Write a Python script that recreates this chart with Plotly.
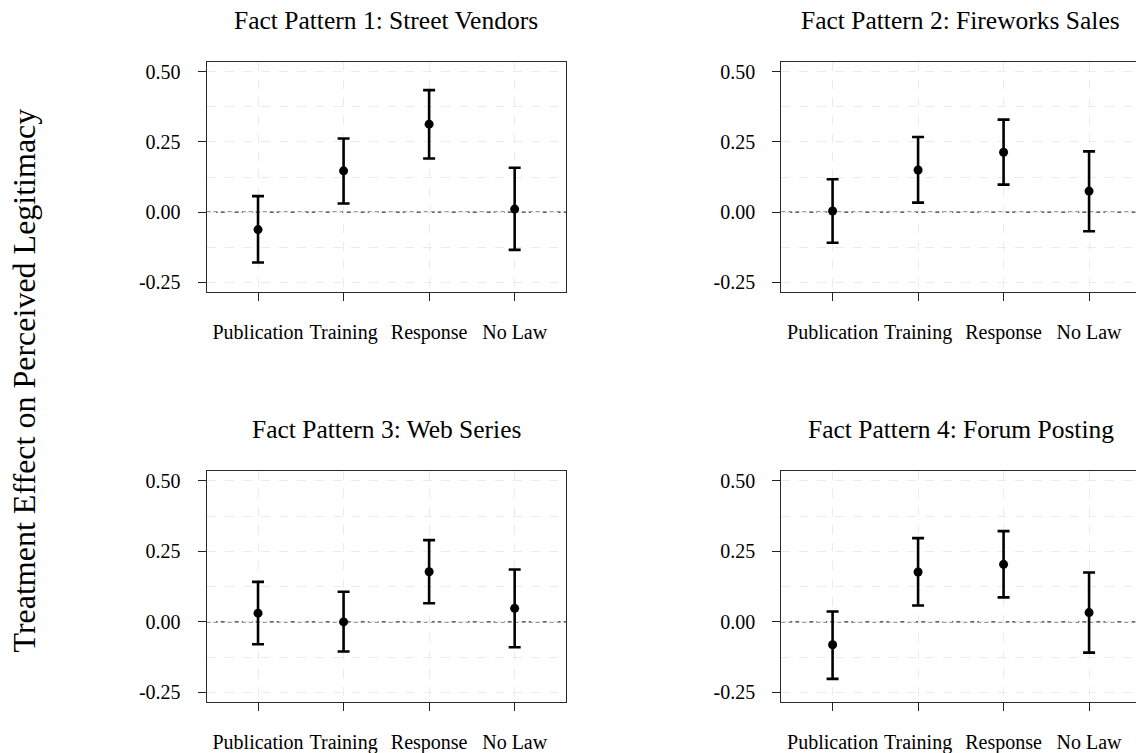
import plotly.graph_objects as go

W, H = 1136, 753
FONT = "Liberation Serif"

categories = ["Publication", "Training", "Response", "No Law"]
cat_pos = [1, 2, 3, 4]

titles = [
    "Fact Pattern 1: Street Vendors",
    "Fact Pattern 2: Fireworks Sales",
    "Fact Pattern 3: Web Series",
    "Fact Pattern 4: Forum Posting",
]

# point estimates and 95% CI bounds per fact pattern
est_fp1 = [-0.062, 0.147, 0.313, 0.011]
low_fp1 = [-0.179, 0.031, 0.191, -0.134]
up_fp1 = [0.057, 0.262, 0.434, 0.158]

est_fp2 = [0.004, 0.150, 0.213, 0.075]
low_fp2 = [-0.109, 0.034, 0.098, -0.068]
up_fp2 = [0.117, 0.267, 0.329, 0.216]

est_fp3 = [0.031, 0.000, 0.178, 0.048]
low_fp3 = [-0.079, -0.105, 0.066, -0.090]
up_fp3 = [0.142, 0.107, 0.290, 0.186]

est_fp4 = [-0.081, 0.177, 0.204, 0.033]
low_fp4 = [-0.202, 0.058, 0.087, -0.109]
up_fp4 = [0.037, 0.297, 0.322, 0.175]

y_ticks = [-0.25, 0.0, 0.25, 0.50]
y_tick_text = ["-0.25", "0.00", "0.25", "0.50"]

ylabel = "Treatment Effect on Perceived Legitimacy"

panels = [
    (est_fp1, low_fp1, up_fp1),
    (est_fp2, low_fp2, up_fp2),
    (est_fp3, low_fp3, up_fp3),
    (est_fp4, low_fp4, up_fp4),
]

# layout geometry (pixels)
left_x = [(206.7, 566.0), (781.3, 1136.0)]
top_y = [(61.7, 292.3), (471.0, 702.3)]
x_ranges = [[0.4, 4.6], [0.4, 4.549]]
y_range = [-0.285, 0.535]
GRID = "#ebebeb"

fig = go.Figure()

for i, (est, lo, up) in enumerate(panels):
    r, c = divmod(i, 2)
    ax = "" if i == 0 else str(i + 1)
    fig.add_trace(go.Scatter(
        x=cat_pos, y=est, mode="markers",
        marker=dict(color="black", size=9),
        error_y=dict(type="data", symmetric=False,
                     array=[u - e for u, e in zip(up, est)],
                     arrayminus=[e - l for e, l in zip(est, lo)],
                     color="black", thickness=2.6, width=6),
        xaxis="x" + ax, yaxis="y" + ax, showlegend=False,
        cliponaxis=False,
    ))
    x0, x1 = left_x[c]
    ytop, ybot = top_y[r]
    xd = [x0 / W, x1 / W]
    yd = [(H - ybot) / H, (H - ytop) / H]
    fig.layout["xaxis" + ax] = dict(
        domain=xd, range=x_ranges[c], anchor="y" + ax, automargin=False,
        tickmode="array", tickvals=cat_pos, ticktext=categories,
        ticks="outside", ticklen=8, tickwidth=1.2, tickcolor="#222",
        showline=True, mirror=True, linecolor="#2a2a2a", linewidth=1.3,
        showgrid=True, gridcolor=GRID, griddash="dash", gridwidth=1,
        zeroline=False, ticklabelstandoff=14,
        tickfont=dict(family=FONT, size=20, color="black"),
        fixedrange=True,
    )
    fig.layout["yaxis" + ax] = dict(
        domain=yd, range=y_range, anchor="x" + ax, automargin=False,
        tickmode="array", tickvals=y_ticks, ticktext=y_tick_text,
        ticks="outside", ticklen=8, tickwidth=1.2, tickcolor="#222",
        showline=True, mirror=True, linecolor="#2a2a2a", linewidth=1.3,
        showgrid=True, gridcolor=GRID, griddash="dash", gridwidth=1,
        minor=dict(dtick=0.125, tick0=0, showgrid=True, gridcolor=GRID,
                   griddash="dash", gridwidth=1, ticks=""),
        zeroline=False, ticklabelstandoff=13,
        tickfont=dict(family=FONT, size=20, color="black"),
        fixedrange=True,
    )
    fig.add_shape(type="line", xref=f"x{ax} domain", yref="y" + ax,
                  x0=0, x1=1, y0=0, y1=0,
                  line=dict(color="#333", width=1.2, dash="4px,3px"), layer="below")
    fig.add_annotation(
        text=titles[i], xref="paper", yref="paper",
        x=((x0 + x1) / 2 if c == 0 else 960.5) / W,
        y=(H - (ytop - 41.5)) / H,
        xanchor="center", yanchor="middle", showarrow=False,
        font=dict(family=FONT, size=25.5, color="black"),
    )

fig.add_annotation(
    text=ylabel, xref="paper", yref="paper",
    x=23 / W, y=(H - 380.5) / H, textangle=-90,
    xanchor="center", yanchor="middle", showarrow=False,
    font=dict(family=FONT, size=32, color="black"),
)

fig.update_layout(
    width=W, height=H,
    margin=dict(l=0, r=0, t=0, b=0, autoexpand=False),
    paper_bgcolor="white", plot_bgcolor="white",
)

fig.write_html("out.html", config={"displayModeBar": False},
               post_script="document.body.style.margin='0px';document.body.style.overflow='hidden';")
